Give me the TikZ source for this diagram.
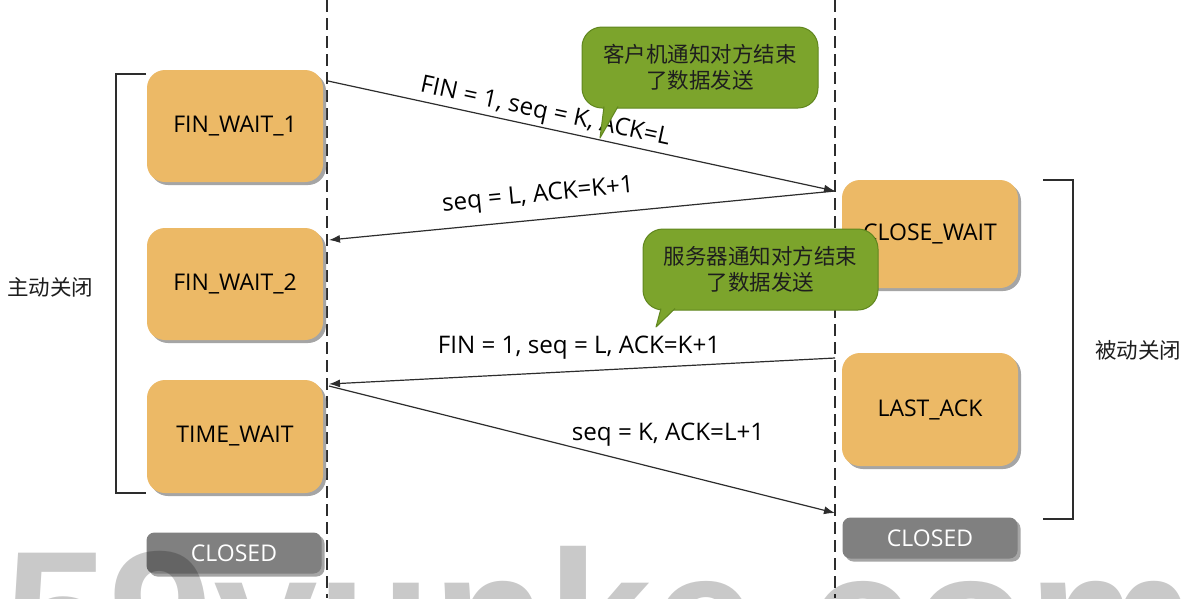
\documentclass[tikz,border=0pt]{standalone}
\usepackage{fontspec}
\setmainfont{Open Sans}
\newfontfamily\cjk{Noto Sans CJK SC}
\newfontfamily\wmfont{Liberation Sans}
\usetikzlibrary{arrows.meta,shadows}
\definecolor{stateorange}{RGB}{236,185,102}
\definecolor{shadowgray}{RGB}{165,165,165}
\definecolor{closedgray}{RGB}{128,128,128}
\definecolor{calloutgreen}{RGB}{124,164,44}
\definecolor{calloutborder}{RGB}{96,134,30}
\definecolor{linegray}{RGB}{45,45,45}
\definecolor{textdark}{RGB}{30,30,30}
\begin{document}
\begin{tikzpicture}[x=1pt,y=-1pt,
  statebox/.style={fill=stateorange, rounded corners=18pt, minimum width=176pt,
    minimum height=112pt, inner sep=0pt, text=black,
    font=\fontsize{23}{27}\selectfont,
    drop shadow={shadow xshift=3pt, shadow yshift=-3pt, fill=shadowgray, opacity=1}},
  closedbox/.style={fill=closedgray, rounded corners=8pt, minimum width=175pt,
    minimum height=41pt, inner sep=0pt, text=white,
    font=\fontsize{23}{27}\selectfont,
    drop shadow={shadow xshift=3pt, shadow yshift=-3pt, fill=shadowgray, opacity=1}},
  calloutbox/.style={fill=calloutgreen, draw=calloutborder, line width=1pt,
    rounded corners=20pt, minimum width=236pt, minimum height=81pt, inner sep=0pt,
    align=center, text=textdark, font={\cjk\fontsize{21.5}{26.5}\selectfont}},
  callouttail/.style={fill=calloutgreen, draw=calloutborder, line width=1pt, line join=round},
  lifeline/.style={draw=linegray, line width=1.2pt, dash pattern=on 12pt off 6pt},
  msg/.style={draw=linegray, line width=1.2pt, -{Latex[length=11pt,width=8pt]}},
  msglabel/.style={inner sep=0pt, text=black, font=\fontsize{24.2}{28}\selectfont},
  bracketline/.style={draw=linegray, line width=1.3pt},
  sidelabel/.style={inner sep=0pt, text=textdark, font={\cjk\fontsize{21.5}{26}\selectfont}},
  watermark/.style={anchor=base west, inner sep=0pt, text=black, opacity=0.21,
    font={\wmfont\bfseries\fontsize{188}{188}\selectfont}}
]
\useasboundingbox (0,0) rectangle (1198,598);
\clip (0,0) rectangle (1198,598);
\fill[white] (0,0) rectangle (1198,598);

% lifelines
\coordinate (Ltop) at (327,0);
\coordinate (Lbot) at (327,598);
\coordinate (Rtop) at (835,0);
\coordinate (Rbot) at (835,598);
\draw[lifeline] (Ltop) -- (Lbot);
\draw[lifeline] (Rtop) -- (Rbot);

% state boxes
\node[statebox] (fw1) at (235,126) {FIN\_WAIT\_1};
\node[statebox] (fw2) at (235,284) {FIN\_WAIT\_2};
\node[statebox, minimum height=113pt] (tw) at (235,436.5) {TIME\_WAIT};
\node[closedbox] (clL) at (234,553) {CLOSED};
\node[statebox, minimum height=108pt] (cw) at (930,234) {CLOSE\_WAIT};
\node[statebox, minimum height=113pt] (la) at (930,409.5) {LAST\_ACK};
\node[closedbox] (clR) at (930,538) {CLOSED};

% brackets
\coordinate (b1) at (146,74);
\coordinate (b2) at (116,74);
\coordinate (b3) at (116,493);
\coordinate (b4) at (146,493);
\draw[bracketline] (b1) -- (b2) -- (b3) -- (b4);
\coordinate (b5) at (1043,180);
\coordinate (b6) at (1073,180);
\coordinate (b7) at (1073,519);
\coordinate (b8) at (1043,519);
\draw[bracketline] (b5) -- (b6) -- (b7) -- (b8);
\node[sidelabel] (act) at (50,287) {主动关闭};
\node[sidelabel] (pas) at (1138,350) {被动关闭};

% messages
\coordinate (lA) at (328,81);
\coordinate (rA) at (835,191);
\coordinate (lB) at (329,240);
\coordinate (rC) at (835,358);
\coordinate (lC) at (329,384);
\coordinate (lD) at (329,386);
\coordinate (rD) at (835,513);
\draw[msg] (lA) -- (rA);
\draw[msg] (rA) -- (lB);
\draw[msg] (rC) -- (lC);
\draw[msg] (lD) -- (rD);
\node[msglabel, rotate=-12.2] (m1) at (545,113) {FIN = 1, seq = K, ACK=L};
\node[msglabel, rotate=5.6] (m2) at (538,196) {seq = L, ACK=K+1};
\node[msglabel] (m3) at (579,348) {FIN = 1, seq = L, ACK=K+1};
\node[msglabel] (m4) at (668,435) {seq = K, ACK=L+1};

% callouts
\node[calloutbox] (cb1) at (700,67.5) {客户机通知对方结束\\了数据发送};
\coordinate (t1a) at (604,106.5);
\coordinate (t1b) at (600,138);
\coordinate (t1c) at (618,106.5);
\filldraw[callouttail] (t1a) -- (t1b) -- (t1c);
\node[calloutbox, minimum width=235pt] (cb2) at (760.5,269.5) {服务器通知对方结束\\了数据发送};
\coordinate (t2a) at (661,308.5);
\coordinate (t2b) at (656,327);
\coordinate (t2c) at (675,308.5);
\filldraw[callouttail] (t2a) -- (t2b) -- (t2c);

% watermark
\node[watermark] (wm) at (4,682) {59yunke.com};
\end{tikzpicture}
\end{document}
